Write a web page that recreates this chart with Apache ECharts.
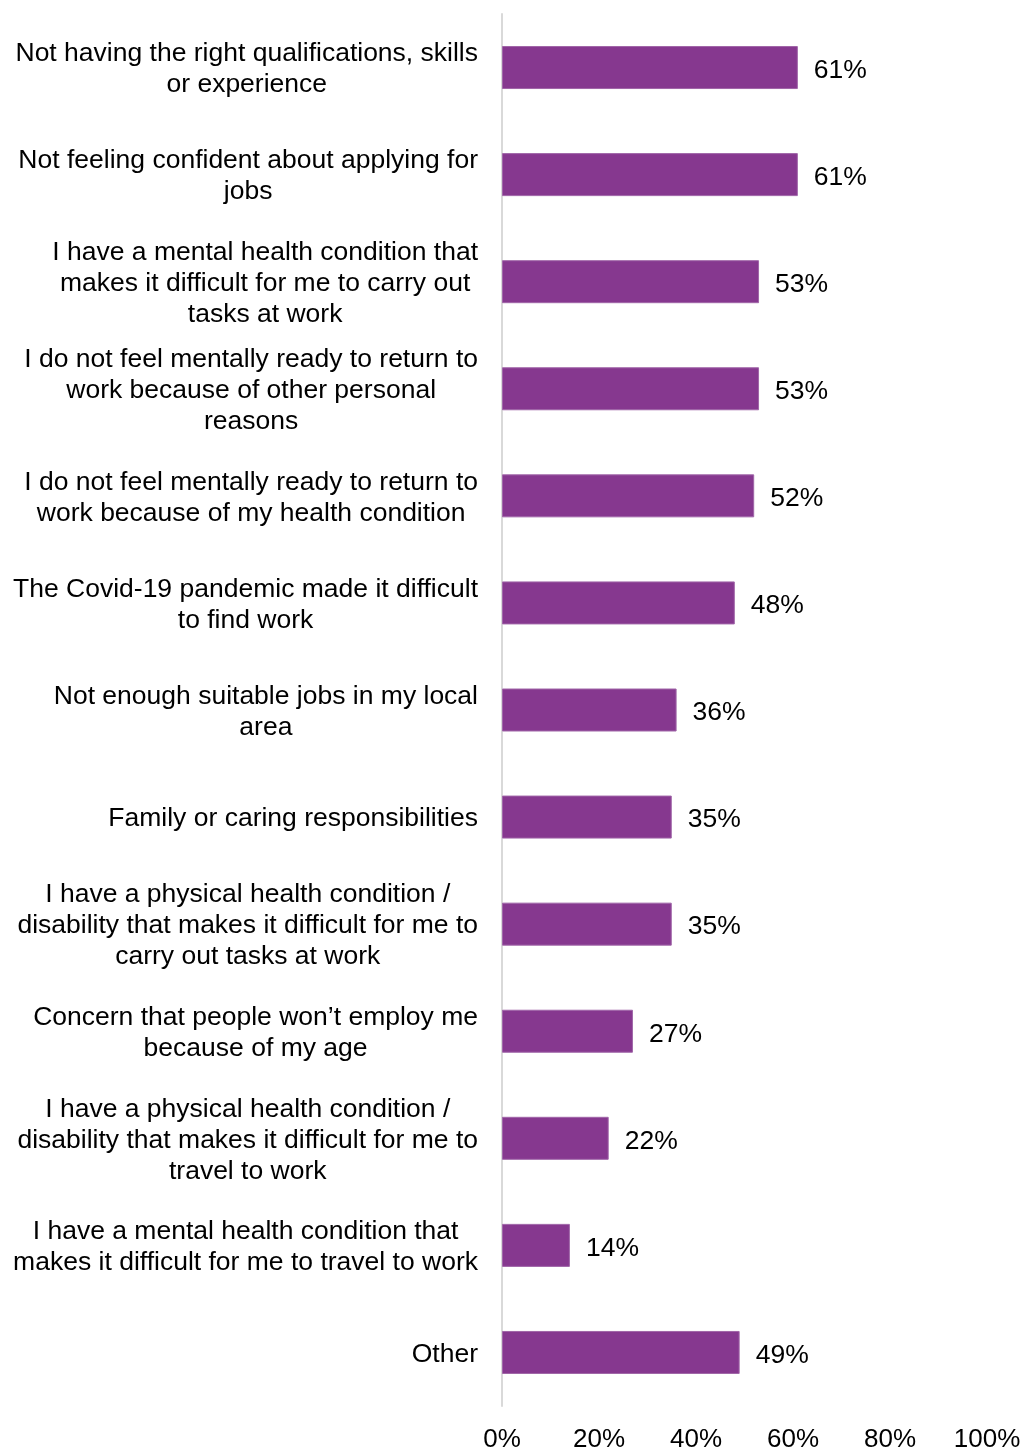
<!DOCTYPE html>
<html>
<head>
<meta charset="utf-8">
<script src="https://cdn.jsdelivr.net/npm/echarts@6/dist/echarts.min.js"></script>
<style>
  html, body { margin: 0; padding: 0; background: #fff; }
  #chart { width: 1023px; height: 1449px; }
</style>
</head>
<body>
<div id="chart"></div>
<script>
// categories, top to bottom
var categories = [
  'Not having the right qualifications, skills\nor experience',
  'Not feeling confident about applying for\njobs',
  'I have a mental health condition that\nmakes it difficult for me to carry out\ntasks at work',
  'I do not feel mentally ready to return to\nwork because of other personal\nreasons',
  'I do not feel mentally ready to return to\nwork because of my health condition',
  'The Covid-19 pandemic made it difficult\nto find work',
  'Not enough suitable jobs in my local\narea',
  'Family or caring responsibilities',
  'I have a physical health condition /\ndisability that makes it difficult for me to\ncarry out tasks at work',
  'Concern that people won\u2019t employ me\nbecause of my age',
  'I have a physical health condition /\ndisability that makes it difficult for me to\ntravel to work',
  'I have a mental health condition that\nmakes it difficult for me to travel to work',
  'Other'
];
var values = [61, 61, 53, 53, 52, 48, 36, 35, 35, 27, 22, 14, 49];
var ticks = [0, 20, 40, 60, 80, 100];

var font = '"Liberation Sans", Arial, sans-serif';

var chart = echarts.init(document.getElementById('chart'));
chart.setOption({
  animation: false,
  grid: { left: 502, right: 36, top: 14, bottom: 43, containLabel: false, outerBoundsMode: 'none' },
  xAxis: {
    type: 'value',
    min: ticks[0],
    max: ticks[ticks.length - 1],
    interval: 20,
    axisLine: { show: false },
    axisTick: { show: false },
    splitLine: { show: false },
    axisLabel: {
      formatter: '{value}%',
      color: '#000',
      fontFamily: font,
      fontSize: 26,
      margin: 21
    }
  },
  yAxis: {
    type: 'category',
    inverse: true,
    data: categories,
    axisLine: { show: true, lineStyle: { color: '#d9d9d9', width: 2 } },
    axisTick: { show: false },
    axisLabel: {
      margin: 24,
      padding: [4, 0, 0, 0],
      formatter: function (v) {
        return v.split('\n').map(function (l) { return '{c|' + l + '}'; }).join('\n');
      },
      rich: {
        c: { align: 'center', color: '#000', fontFamily: font, fontSize: 26.5, lineHeight: 31 }
      }
    }
  },
  series: [{
    type: 'bar',
    data: values,
    barWidth: 43,
    itemStyle: { color: '#86388f', borderColor: '#a066a8', borderWidth: 1 },
    label: {
      show: true,
      position: 'right',
      distance: 16,
      offset: [0, 3],
      formatter: '{c}%',
      color: '#000',
      fontFamily: font,
      fontSize: 26.5
    }
  }]
});
</script>
</body>
</html>
